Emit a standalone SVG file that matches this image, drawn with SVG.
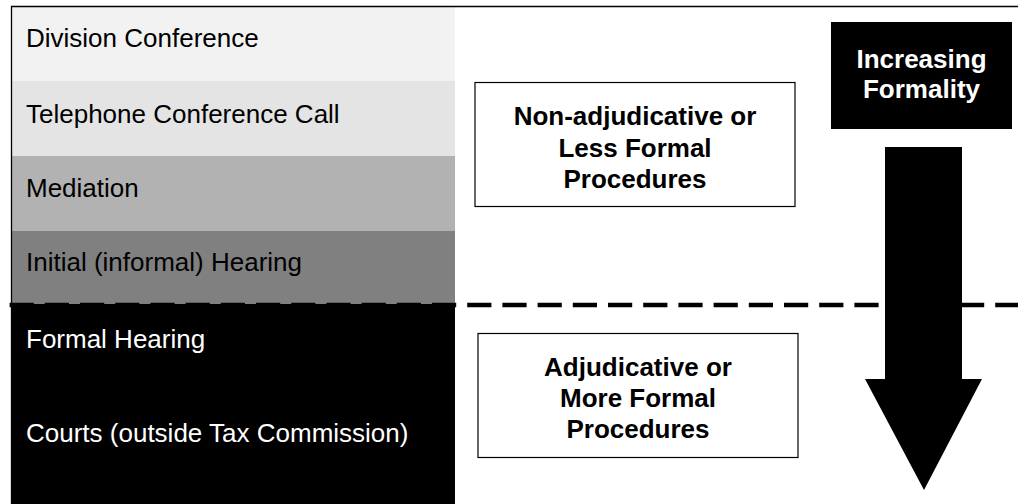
<svg xmlns="http://www.w3.org/2000/svg" width="1018" height="504" viewBox="0 0 1018 504">
  <style>
    .band-label { font-family: "Liberation Sans", Arial, sans-serif; font-size: 26px; }
    .box-label { font-family: "Liberation Sans", Arial, sans-serif; font-size: 26px; font-weight: bold; text-anchor: middle; }
    .outline { fill: #ffffff; stroke: #000000; stroke-width: 1.2; }
  </style>
  <rect x="0" y="0" width="1018" height="504" fill="#ffffff"/>

  <!-- procedure bands, least to most formal -->
  <g id="division-conference">
    <rect x="11" y="6" width="444" height="75" fill="#f2f2f2"/>
    <text class="band-label" x="26" y="47" fill="#000">Division Conference</text>
  </g>
  <g id="telephone-conference">
    <rect x="11" y="81" width="444" height="75" fill="#e4e4e4"/>
    <text class="band-label" x="26" y="123" fill="#000">Telephone Conference Call</text>
  </g>
  <g id="mediation">
    <rect x="11" y="156" width="444" height="75" fill="#b2b2b2"/>
    <text class="band-label" x="26" y="197" fill="#000">Mediation</text>
  </g>
  <g id="initial-hearing">
    <rect x="11" y="231" width="444" height="73" fill="#808080"/>
    <text class="band-label" x="26" y="271" fill="#000">Initial (informal) Hearing</text>
  </g>
  <g id="formal-stages">
    <rect x="11" y="304" width="444" height="200" fill="#000000"/>
    <text class="band-label" x="26" y="348" fill="#ffffff">Formal Hearing</text>
    <text class="band-label" x="26" y="442" fill="#ffffff">Courts (outside Tax Commission)</text>
  </g>

  <!-- frame: top and left edges -->
  <path d="M11.5 504 V6.5 H1018" fill="none" stroke="#000" stroke-width="1.3"/>

  <g id="connectors">
    <!-- divider between informal and formal procedures -->
    <line x1="9.6" y1="305" x2="1018" y2="305" stroke="#000" stroke-width="4.5" stroke-dasharray="24.2 11"/>
  </g>

  <g id="less-formal">
    <rect class="outline" x="475" y="82.5" width="320" height="124"/>
    <text class="box-label" x="635" y="125">Non-adjudicative or</text>
    <text class="box-label" x="635" y="157">Less Formal</text>
    <text class="box-label" x="635" y="188">Procedures</text>
  </g>

  <g id="more-formal">
    <rect class="outline" x="478" y="333.5" width="320" height="124"/>
    <text class="box-label" x="638" y="376">Adjudicative or</text>
    <text class="box-label" x="638" y="407">More Formal</text>
    <text class="box-label" x="638" y="438">Procedures</text>
  </g>

  <g id="increasing-formality">
    <rect x="831" y="22" width="181" height="107" fill="#000"/>
    <text class="box-label" x="921.5" y="68" fill="#ffffff">Increasing</text>
    <text class="box-label" x="921.5" y="98" fill="#ffffff">Formality</text>
  </g>

  <g id="formality-arrow">
    <polygon points="885,147 962,147 962,379 982,379 924,490 865,379 885,379" fill="#000"/>
  </g>
</svg>
